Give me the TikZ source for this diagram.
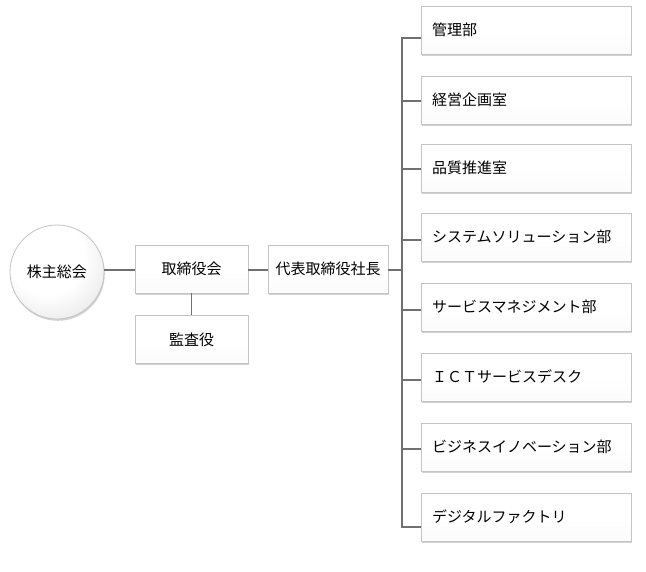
\documentclass[tikz,border=0pt]{standalone}
\usepackage{fontspec}
\setmainfont{Noto Sans CJK JP}
\usetikzlibrary{shadows,calc}
\definecolor{linec}{HTML}{707070}
\definecolor{edgec}{HTML}{C4C4C4}
\pgfdeclareverticalshading{boxshade}{100bp}{color(0bp)=(gray!30); color(8bp)=(gray!12); color(25bp)=(white!97!gray); color(50bp)=(white); color(100bp)=(white)}
\pgfdeclareradialshading{ballshade}{\pgfpoint{-8bp}{12bp}}{color(0bp)=(white); color(20bp)=(white); color(32bp)=(gray!14); color(42bp)=(gray!32); color(60bp)=(gray!45)}
\begin{document}
\begin{tikzpicture}[x=1pt,y=-1pt,
  box/.style={draw=edgec, line width=0.8pt, shading=boxshade,
    drop shadow={opacity=0.35, shadow xshift=0.8pt, shadow yshift=-1.8pt},
    minimum height=48pt, font=\fontsize{15}{18}\selectfont, inner sep=0pt},
  cbox/.style={box, minimum width=113pt},
  rbox/.style={box, text width=188pt, align=left, inner xsep=11pt},
  circ/.style={circle, draw=edgec, line width=0.8pt, shading=ballshade,
    drop shadow={opacity=0.35, shadow xshift=0.8pt, shadow yshift=-1.8pt},
    minimum size=94pt, font=\fontsize{15}{18}\selectfont, inner sep=0pt},
  conn/.style={draw=linec, line width=1.8pt}]
\useasboundingbox (0,0) rectangle (646,572);
\fill[white] (0,0) rectangle (646,572);
\node[circ] (agm) at (57,272) {株主総会};
\node[cbox] (board) at (191.5,269) {取締役会};
\node[cbox] (audit) at (191.5,339.5) {監査役};
\node[box, minimum width=120pt] (ceo) at (328,269) {代表取締役社長};
\node[rbox] (d1) at (526,30) {管理部};
\node[rbox] (d2) at (526,100) {経営企画室};
\node[rbox] (d3) at (526,168) {品質推進室};
\node[rbox] (d4) at (526,237) {システムソリューション部};
\node[rbox] (d5) at (526,307) {サービスマネジメント部};
\node[rbox] (d6) at (526,377) {ＩＣＴサービスデスク};
\node[rbox] (d7) at (526,447) {ビジネスイノベーション部};
\node[rbox] (d8) at (526,517) {デジタルファクトリ};
\coordinate (bustop) at (402,38);
\coordinate (busbot) at (402,527);
\coordinate (busmid) at (402,270);
\draw[conn] (agm.east |- 0,270) -- (board.west |- 0,270);
\draw[conn] (board.east |- 0,270) -- (ceo.west |- 0,270);
\draw[conn] (board.south) -- (audit.north);
\draw[conn] (ceo.east |- busmid) -- (busmid);
\draw[conn] (bustop -| d1.west) -- (bustop) -- (busbot) -- (busbot -| d8.west);
\foreach \n/\yy in {d2/101,d3/169,d4/240,d5/310,d6/380,d7/449}{
  \draw[conn] (402,\yy) -- (\n.west |- 0,\yy);
}
\end{tikzpicture}
\end{document}
